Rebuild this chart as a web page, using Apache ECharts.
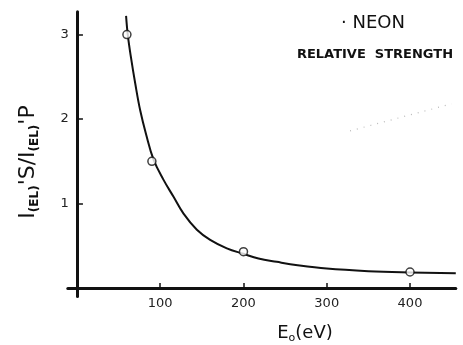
<!DOCTYPE html>
<html><head><meta charset="utf-8">
<script src="https://cdn.jsdelivr.net/npm/echarts@6/dist/echarts.min.js"></script>
<style>html,body{margin:0;padding:0;background:#fff}#c{width:463px;height:345px}</style>
</head><body><div id="c"></div>
<script>
const xTicks = [100, 200, 300, 400];
const yTicks = [1, 2, 3];
const pointE = [60, 90, 200, 400];
const pointR = [3.0, 1.5, 0.43, 0.19];
const curveE = [59, 61, 65, 70, 76, 83, 92, 104, 116, 128, 144, 160, 180, 200, 218, 240, 265, 300, 350, 400, 455];
const curveR = [3.22, 3.0, 2.72, 2.42, 2.1, 1.82, 1.52, 1.28, 1.08, 0.88, 0.69, 0.57, 0.47, 0.405, 0.35, 0.31, 0.27, 0.23, 0.2, 0.185, 0.175];
const faintE = [328, 450];
const faintR = [1.86, 2.18];

const chart = echarts.init(document.getElementById('c'));
const font = 'DejaVu Sans';
chart.setOption({
  backgroundColor: '#fff',
  animation: false,
  title: [
    {text: '· NEON', left: 368, top: 9, textAlign: 'center',
     textStyle: {fontFamily: font, fontSize: 18, fontWeight: 'normal', color: '#111'}},
    {text: 'RELATIVE  STRENGTH', left: 370, top: 43, textAlign: 'center',
     textStyle: {fontFamily: font, fontSize: 13, fontWeight: 'bold', color: '#111'}}
  ],
  graphic: [
    {type: 'text', x: 305, y: 333, style: {
      text: '{a|E}{s|o}{a|(eV)}', align: 'center', verticalAlign: 'middle',
      rich: {
        a: {fontFamily: font, fontSize: 18, fill: '#111'},
        s: {fontFamily: font, fontSize: 11, fill: '#111', padding: [10, 0, 0, 0]}
      }}},
    {type: 'text', x: 28, y: 162, rotation: Math.PI / 2, style: {
      text: '{a|I}{s|(EL)}{a|\'S/I}{s|(EL)}{a|\'P}', align: 'center', verticalAlign: 'middle',
      rich: {
        a: {fontFamily: font, fontSize: 22, fill: '#111'},
        s: {fontFamily: font, fontSize: 12, fontWeight: 'bold', fill: '#111', padding: [13, 0, 0, 0]}
      }}}
  ],
  grid: {left: 67.8, right: 7.2, top: 11.7, bottom: 48.5, outerBoundsMode: 'none'},
  xAxis: {
    type: 'value', min: -11, max: 455,
    axisLine: {onZero: true, lineStyle: {color: '#111', width: 3}},
    axisTick: {inside: true, length: 5, customValues: xTicks, lineStyle: {color: '#111', width: 1.5}},
    axisLabel: {customValues: xTicks, margin: 1, fontFamily: font, fontSize: 13, color: '#222'},
    splitLine: {show: false}
  },
  yAxis: {
    type: 'value', min: -0.1, max: 3.27,
    axisLine: {onZero: true, lineStyle: {color: '#111', width: 3}},
    axisTick: {inside: true, length: 6, customValues: yTicks, lineStyle: {color: '#111', width: 1.5}},
    axisLabel: {customValues: yTicks, margin: -1, fontFamily: font, fontSize: 13, color: '#222'},
    splitLine: {show: false}
  },
  series: [
    {type: 'line', data: curveE.map((e, i) => [e, curveR[i]]), smooth: 0.4, showSymbol: false,
     lineStyle: {color: '#111', width: 2}, z: 2},
    {type: 'scatter', data: pointE.map((e, i) => [e, pointR[i]]), symbol: 'circle', symbolSize: 8,
     itemStyle: {color: '#fff', borderColor: '#111', borderWidth: 1.5}, z: 3},
    {type: 'line', data: faintE.map((e, i) => [e, faintR[i]]), showSymbol: false,
     lineStyle: {color: '#bbb', width: 1.2, type: [1, 6]}, z: 1}
  ]
});
</script></body></html>
